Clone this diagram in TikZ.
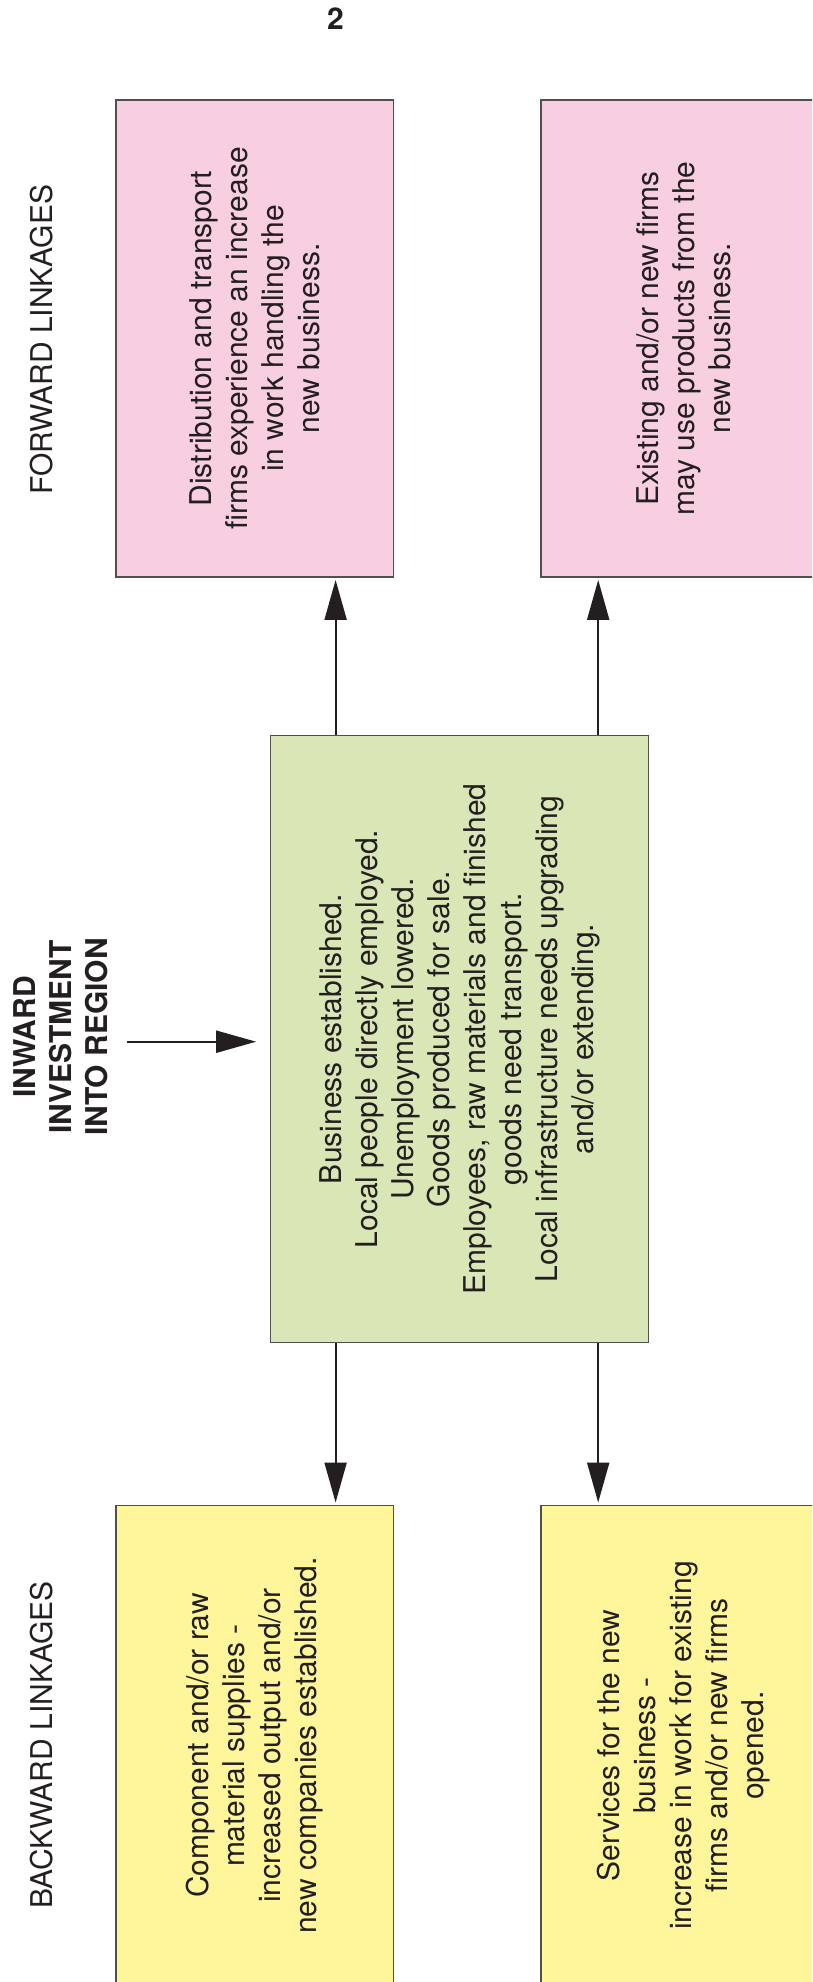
\documentclass[tikz,border=0pt]{standalone}
\usepackage{fontspec}
\setmainfont{TeX Gyre Heros}
\usepackage{xcolor}
\usetikzlibrary{arrows.meta}
\definecolor{linkpink}{RGB}{248,207,225}
\definecolor{hubgreen}{RGB}{217,231,183}
\definecolor{linkyellow}{RGB}{255,245,155}
\definecolor{inkdark}{RGB}{35,31,32}
\definecolor{edgegrey}{RGB}{80,80,80}

\begin{document}
\begin{tikzpicture}%
        [x=1pt, y=-1pt,
        every node/.style={text=inkdark, font=\fontsize{30}{36}\selectfont},
        box/.style={draw=edgegrey, line width=1.2pt, rotate=90, align=center, inner sep=0pt},
        fwdbox/.style={box, fill=linkpink},
        hubbox/.style={box, fill=hubgreen},
        bwdbox/.style={box, fill=linkyellow},
        link/.style={color=inkdark, line width=2pt, -{Triangle[length=40pt,width=22pt]}, shorten >=2.3pt}]
    \useasboundingbox (0,0) rectangle (812,1982);
    \clip (0,0) rectangle (812,1982);
    %% Page number and row labels
    \node[font=\bfseries\fontsize{30}{36}\selectfont] (pagenum) at (335.5,18.8) {2};
    \node[rotate=90] (fwdlabel) at (41.4,339.7) {FORWARD LINKAGES};
    \node[rotate=90] (bwdlabel) at (41.4,1745.2) {BACKWARD LINKAGES};
    \node[rotate=90, align=center, font=\bfseries\fontsize{30}{36}\selectfont] (inward) at (61,1037) {INWARD\\INVESTMENT\\INTO REGION};
    %%
    %% Boxes (rotated: east = top, west = bottom, north = left)
    %%
    \node[fwdbox, minimum width=477pt, minimum height=277.6pt] (dist) at (254.8,338.5)
        {Distribution and transport\\firms experience an increase\\in work handling the\\new business.};
    \node[fwdbox, minimum width=477pt, minimum height=285.2pt] (users) at (683.6,338.5)
        {Existing and/or new firms\\may use products from the\\new business.};
    \node[hubbox, minimum width=607.5pt, minimum height=378.1pt] (hub) at (459.4,1039)
        {Business established.\\Local people directly employed.\\Unemployment lowered.\\Goods produced for sale.\\Employees, raw materials and finished\\goods need transport.\\Local infrastructure needs upgrading\\and/or extending.};
    \node[bwdbox, minimum width=480.2pt, minimum height=277.6pt] (supply) at (254.8,1745.5)
        {Component and/or raw\\material supplies -\\increased output and/or\\new companies established.};
    \node[bwdbox, minimum width=480.2pt, minimum height=285.2pt] (services) at (683.6,1745.5)
        {Services for the new\\business -\\increase in work for existing\\firms and/or new firms\\opened.};
    %%
    %% Arrows
    \coordinate (colA) at (335.6,0);
    \coordinate (colB) at (598.2,0);
    \coordinate (inwtail) at (127.4,1041.7);
    \draw[link, shorten >=13.6pt] (inwtail) -- (inwtail -| hub.north);
    \draw[link] (hub.east -| colA) -- (dist.west -| colA);
    \draw[link] (hub.east -| colB) -- (users.west -| colB);
    \draw[link] (hub.west -| colA) -- (supply.east -| colA);
    \draw[link] (hub.west -| colB) -- (services.east -| colB);
\end{tikzpicture}
\end{document}
